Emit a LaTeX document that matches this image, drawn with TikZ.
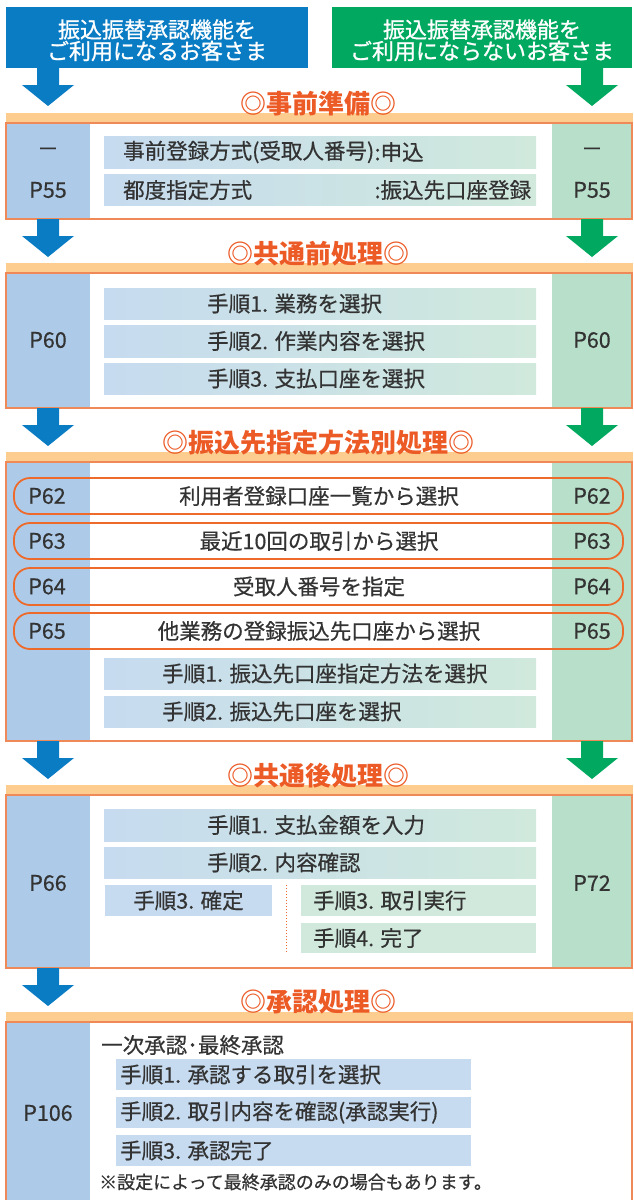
\documentclass[tikz,border=0pt]{standalone}
\usepackage{fontspec}
\setmainfont{Noto Sans CJK JP}
\newfontfamily\jpmed{Noto Sans CJK JP}[FakeBold=0.5]
\newfontfamily\jphead{Noto Sans CJK JP}[FakeBold=1.0]
\definecolor{hblue}{HTML}{0A7CC4}
\definecolor{hgreen}{HTML}{00A95F}
\definecolor{colblue}{HTML}{ADCBE9}
\definecolor{colgreen}{HTML}{B7DFCA}
\definecolor{barblue}{HTML}{C6DBEF}
\definecolor{bargreen}{HTML}{D0E9DC}
\definecolor{bandc}{HTML}{FCCD8E}
\definecolor{boxline}{HTML}{EF8A58}
\definecolor{ovalc}{HTML}{EE6A2B}
\definecolor{ttlc}{HTML}{EC5A26}
\definecolor{txtc}{HTML}{333333}
\tikzset{
  jtext/.style={font=\jpmed\fontsize{21.5}{21.5}\selectfont, text=txtc, inner sep=0pt},
  jhead/.style={font=\jphead\fontsize{22}{22}\selectfont, text=white, inner sep=0pt},
  jtitle/.style={font=\bfseries\fontsize{26}{26}\selectfont, text=ttlc, inner sep=0pt},
  jnote/.style={font=\jpmed\fontsize{18}{18}\selectfont, text=txtc, inner sep=0pt},
  gradbar/.style={left color=barblue, right color=bargreen},
  bluebar/.style={fill=barblue},
  greenbar/.style={fill=bargreen},
  boxborder/.style={draw=boxline, line width=1.2pt},
  ovalbox/.style={draw=ovalc, line width=1.8pt, rounded corners=16pt},
}
% band + box with columns: #1 band top, #2 box bottom
\newcommand\stagebox[2]{%
  \fill[bandc] (6,#1) rectangle (633,{#1+10});
  \fill[colblue] (6,{#1+10}) rectangle (90,#2);
  \fill[colgreen] (552,{#1+10}) rectangle (632,#2);
  \draw[boxborder] (6,{#1+10}) rectangle (632,#2);
}
% down arrow: colour, centre x, start y, tip y
\newcommand\dnarrow[4]{%
  \fill[#1] ({#2-11},#3) -- ({#2+11},#3) -- ({#2+11},{#4-21}) -- ({#2+26},{#4-21})
    -- (#2,#4) -- ({#2-26},{#4-21}) -- ({#2-11},{#4-21}) -- cycle;
}
\begin{document}
\begin{tikzpicture}[x=1pt,y=-1pt]
\useasboundingbox (0,0) rectangle (634,1200);
\fill[white] (0,0) rectangle (634,1200);

% headers
\fill[hblue] (6,7) rectangle (308,68);
\fill[hgreen] (332,7) rectangle (632,68);
\node[jhead] (hb1) at (157,29.5) {振込振替承認機能を};
\node[jhead] (hb2) at (157,51) {ご利用になるお客さま};
\node[jhead] (hg1) at (482,29.5) {振込振替承認機能を};
\node[jhead] (hg2) at (482,51) {ご利用にならないお客さま};

% ---- section 1
\dnarrow{hblue}{48}{68}{106}
\dnarrow{hgreen}{592}{68}{106}
\stagebox{113}{219}
\node[jtitle] (t1) at (318,104) {◎事前準備◎};
\fill[gradbar] (104,136) rectangle (536,168);
\fill[gradbar] (104,174) rectangle (536,205);
\node[jtext] (l1a) at (48,152) {－};
\node[jtext] (l1b) at (48,190) {P55};
\node[jtext] (r1a) at (592,152) {－};
\node[jtext] (r1b) at (592,190) {P55};
\node[jtext, anchor=west] (s1a) at (123,152) {事前登録方式(受取人番号)};
\node[jtext, anchor=west] (s1b) at (s1a.east) {:申込};
\node[jtext, anchor=west] (s1c) at (123,190) {都度指定方式};
\node[jtext, anchor=west] (s1d) at (s1b.west |- s1c) {:振込先口座登録};

% ---- section 2
\dnarrow{hblue}{48}{219}{257}
\dnarrow{hgreen}{592}{219}{257}
\stagebox{263}{408}
\node[jtitle] (t2) at (318,254) {◎共通前処理◎};
\fill[gradbar] (104,288) rectangle (536,319);
\fill[gradbar] (104,325) rectangle (536,357);
\fill[gradbar] (104,363) rectangle (536,394);
\node[jtext, anchor=west] (s2a) at (207,303.5) {手順1. 業務を選択};
\node[jtext, anchor=west] (s2b) at (207,341) {手順2. 作業内容を選択};
\node[jtext, anchor=west] (s2c) at (207,378.5) {手順3. 支払口座を選択};
\node[jtext] (l2) at (48,340) {P60};
\node[jtext] (r2) at (592,340) {P60};

% ---- section 3
\dnarrow{hblue}{48}{408}{446}
\dnarrow{hgreen}{592}{408}{446}
\stagebox{452}{741}
\node[jtitle] (t3) at (318,443) {◎振込先指定方法別処理◎};
\draw[ovalbox] (14,478) rectangle (623,514);
\draw[ovalbox] (14,523) rectangle (623,559);
\draw[ovalbox] (14,568) rectangle (623,605);
\draw[ovalbox] (14,613) rectangle (623,649);
\node[jtext] (l3a) at (47,496) {P62};
\node[jtext] (m3a) at (319,496) {利用者登録口座一覧から選択};
\node[jtext] (r3a) at (592,496) {P62};
\node[jtext] (l3b) at (47,541) {P63};
\node[jtext] (m3b) at (319,541) {最近10回の取引から選択};
\node[jtext] (r3b) at (592,541) {P63};
\node[jtext] (l3c) at (47,586.5) {P64};
\node[jtext] (m3c) at (319,586.5) {受取人番号を指定};
\node[jtext] (r3c) at (592,586.5) {P64};
\node[jtext] (l3d) at (47,631) {P65};
\node[jtext] (m3d) at (319,631) {他業務の登録振込先口座から選択};
\node[jtext] (r3d) at (592,631) {P65};
\fill[gradbar] (104,658) rectangle (536,689);
\fill[gradbar] (104,696) rectangle (536,727);
\node[jtext, anchor=west] (s3a) at (162,673.5) {手順1. 振込先口座指定方法を選択};
\node[jtext, anchor=west] (s3b) at (162,711.5) {手順2. 振込先口座を選択};

% ---- section 4
\dnarrow{hblue}{48}{741}{779}
\dnarrow{hgreen}{592}{741}{779}
\stagebox{785}{968}
\node[jtitle] (t4) at (318,776) {◎共通後処理◎};
\fill[gradbar] (104,809) rectangle (536,841);
\fill[gradbar] (104,847) rectangle (536,878);
\fill[bluebar] (105,885) rectangle (272,916);
\fill[greenbar] (301,885) rectangle (536,916);
\fill[greenbar] (301,923) rectangle (536,953);
\draw[ovalc, line width=1pt, dotted] (286,885) -- (286,953);
\node[jtext, anchor=west] (s4a) at (207,825) {手順1. 支払金額を入力};
\node[jtext, anchor=west] (s4b) at (207,862.5) {手順2. 内容確認};
\node[jtext] (s4c) at (188.5,900.5) {手順3. 確定};
\node[jtext, anchor=west] (s4d) at (313,900.5) {手順3. 取引実行};
\node[jtext, anchor=west] (s4e) at (313,938) {手順4. 完了};
\node[jtext] (l4) at (48,883) {P66};
\node[jtext] (r4) at (592,883) {P72};

% ---- section 5
\dnarrow{hblue}{48}{968}{1006}
\fill[bandc] (6,1012) rectangle (633,1022);
\fill[colblue] (6,1022) rectangle (90,1205);
\draw[boxborder] (6,1210) -- (6,1022) -- (632,1022) -- (632,1210);
\node[jtitle] (t5) at (318,1002) {◎承認処理◎};
\node[jtext, anchor=west] (s5h) at (101,1045) {一次承認･最終承認};
\fill[bluebar] (116,1059) rectangle (471,1090);
\fill[bluebar] (116,1097) rectangle (471,1128);
\fill[bluebar] (116,1135) rectangle (471,1166);
\node[jtext, anchor=west] (s5a) at (120,1074.5) {手順1. 承認する取引を選択};
\node[jtext, anchor=west] (s5b) at (120,1112.5) {手順2. 取引内容を確認(承認実行)};
\node[jtext, anchor=west] (s5c) at (120,1150.5) {手順3. 承認完了};
\node[jnote, anchor=west] (s5n) at (99,1182) {※設定によって最終承認のみの場合もあります。};
\node[jtext] (l5) at (48,1113) {P106};
\end{tikzpicture}
\end{document}
